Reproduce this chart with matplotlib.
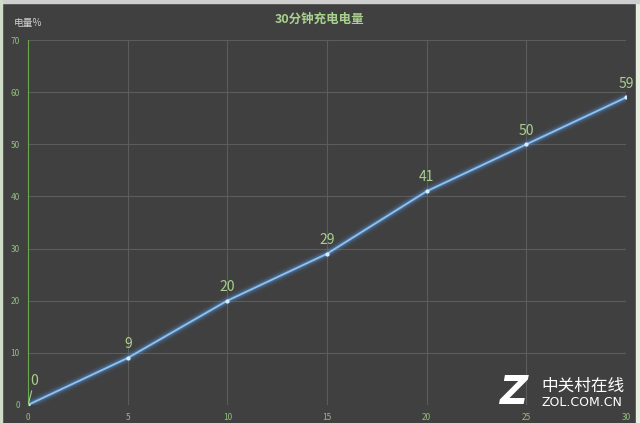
import numpy as np
import matplotlib.pyplot as plt
from matplotlib.patches import Rectangle

plt.rcParams['font.family'] = ['Noto Sans CJK SC', 'DejaVu Sans']

minutes = [0, 5, 10, 15, 20, 25, 30]
charge = [0, 9, 20, 29, 41, 50, 59]
title = '30分钟充电电量'
ylabel = '电量%'

bg = '#404040'
green = '#a9d18e'

fig = plt.figure(figsize=(6.4, 4.23), dpi=100)
fig.patch.set_facecolor(bg)
ax = fig.add_axes([0.044, 0.043, 0.934, 0.862])
ax.set_facecolor(bg)

# glow
for lw, a in [(8, 0.07), (5.5, 0.15), (3.5, 0.3)]:
    ax.plot(minutes, charge, color='#4f8fd8', lw=lw, alpha=a, solid_capstyle='round')
ax.plot(minutes, charge, color='#8ec0ee', lw=1.4, marker='o', ms=2,
        mfc='#d8ecff', mec='#d8ecff')

for x, y in zip(minutes, charge):
    if x == 0:
        ax.annotate(str(y), xy=(x, y), xytext=(0.3, 3.8), color=green, fontsize=10,
                    ha='center', arrowprops=dict(arrowstyle='-', color=green, lw=0.8,
                                                 shrinkA=0, shrinkB=1))
    else:
        ax.text(x, y + 1.3, str(y), color=green, fontsize=10, ha='center', va='bottom')

ax.set_xlim(0, 30)
ax.set_ylim(0, 70)
ax.set_xticks(range(0, 31, 5))
ax.set_yticks(range(0, 71, 10))
ax.grid(True, color='#5c5c5c', lw=0.8)
ax.set_axisbelow(True)
ax.tick_params(colors=green, labelsize=6, length=0, pad=6)
for s in ['top', 'right', 'bottom']:
    ax.spines[s].set_visible(False)
ax.spines['left'].set_color('#6aa84f')
ax.spines['left'].set_linewidth(0.8)
for lab in ax.get_xticklabels() + ax.get_yticklabels():
    lab.set_color('#8fbf7a')

fig.text(0.5, 0.955, title, color=green, fontsize=9, fontweight='bold', ha='center', va='center')
fig.text(0.022, 0.946, ylabel, color='#d0d0d0', fontsize=7, ha='left', va='center')

# light frame edges
fig.patches.append(Rectangle((0.993, 0), 0.007, 1, transform=fig.transFigure,
                             color='#e6efe0', zorder=5))
fig.patches.append(Rectangle((0, 0.993), 1, 0.007, transform=fig.transFigure,
                             color='#cfcfcf', zorder=5))
fig.patches.append(Rectangle((0, 0), 0.003, 1, transform=fig.transFigure,
                             color='#cfdcc8', zorder=5))

# watermark
fig.text(0.804, 0.072, 'Z', color='white', fontsize=28, fontweight='bold',
         fontstyle='italic', ha='center', va='center', family='DejaVu Sans')
fig.text(0.846, 0.087, '中关村在线', color='white', fontsize=12, ha='left', va='center')
fig.text(0.846, 0.048, 'ZOL.COM.CN', color='white', fontsize=9, ha='left', va='center',
         family='DejaVu Sans')

fig.savefig('out.png', dpi=100, facecolor=bg)
